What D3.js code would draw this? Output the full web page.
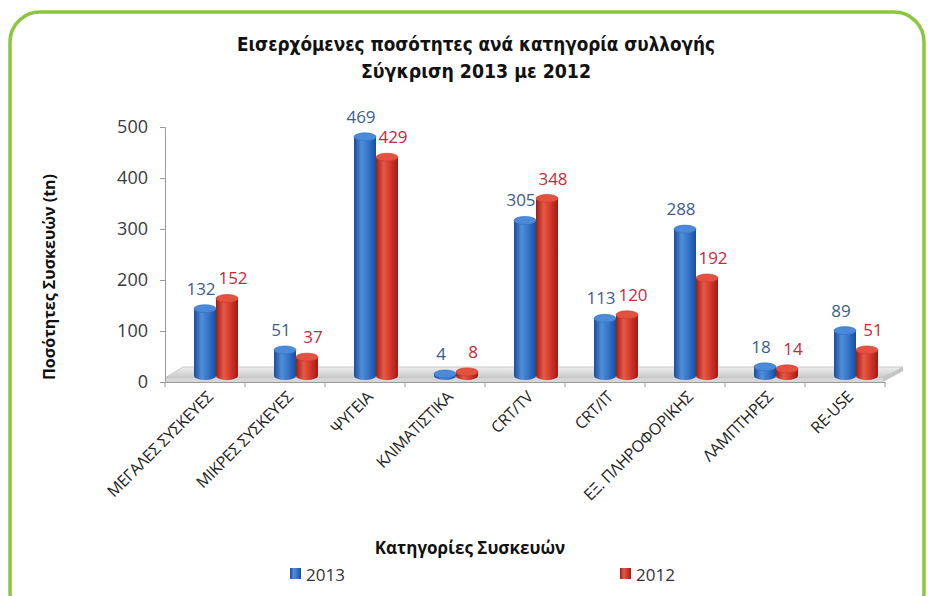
<!DOCTYPE html>
<html>
<head>
<meta charset="utf-8">
<script src="https://cdn.jsdelivr.net/npm/d3@7"></script>
<style>
  body { margin: 0; background: #fff; }
  svg { display: block; }
</style>
</head>
<body>
<div id="chart"></div>
<script>
// chart data
const categories = ["ΜΕΓΑΛΕΣ ΣΥΣΚΕΥΕΣ", "ΜΙΚΡΕΣ ΣΥΣΚΕΥΕΣ", "ΨΥΓΕΙΑ", "ΚΛΙΜΑΤΙΣΤΙΚΑ", "CRT/TV",
                    "CRT/IT", "ΕΞ. ΠΛΗΡΟΦΟΡΙΚΗΣ", "ΛΑΜΠΤΗΡΕΣ", "RE-USE"];
const series = ["2013", "2012"];
const values2013 = [132, 51, 469, 4, 305, 113, 288, 18, 89];
const values2012 = [152, 37, 429, 8, 348, 120, 192, 14, 51];
const yTicks = [0, 100, 200, 300, 400, 500];

const width = 928, height = 596;
const labelFont = "'Open Sans', 'DejaVu Sans', sans-serif";

const svg = d3.select("#chart").append("svg")
    .attr("width", width)
    .attr("height", height);

const defs = svg.append("defs");

// cylinder shading
function cylGradient(id, dark, mid, light) {
    const g = defs.append("linearGradient").attr("id", id)
        .attr("x1", "0%").attr("x2", "100%").attr("y1", "0%").attr("y2", "0%");
    g.append("stop").attr("offset", "0%").attr("stop-color", dark);
    g.append("stop").attr("offset", "35%").attr("stop-color", light);
    g.append("stop").attr("offset", "70%").attr("stop-color", mid);
    g.append("stop").attr("offset", "100%").attr("stop-color", dark);
}
cylGradient("g2013", "#1c4c97", "#2f6fc6", "#4f8fdc");
cylGradient("g2012", "#9d1d18", "#cf3327", "#e65a45");

const floorGrad = defs.append("linearGradient").attr("id", "floor")
    .attr("x1", "0%").attr("x2", "0%").attr("y1", "0%").attr("y2", "100%");
floorGrad.append("stop").attr("offset", "0%").attr("stop-color", "#eeeeee");
floorGrad.append("stop").attr("offset", "100%").attr("stop-color", "#c9c9c9");

const colors = { "2013": "#2f6fc6", "2012": "#cf3327" };
const topColors = { "2013": "#4a8ad8", "2012": "#e2523f" };
const labelColors = { "2013": "#3d5d8d", "2012": "#c9283a" };

// green frame
svg.append("rect")
    .attr("x", 10).attr("y", 12)
    .attr("width", 914).attr("height", 610)
    .attr("rx", 30)
    .attr("fill", "none")
    .attr("stroke", "#8cc63f")
    .attr("stroke-width", 3.5);

// title (condensed bold)
const titleFont = "'DejaVu Sans Condensed', 'DejaVu Sans', sans-serif";
[["Εισερχόμενες ποσότητες ανά κατηγορία συλλογής", 51, 478],
 ["Σύγκριση 2013 με 2012", 78, 230]].forEach(([t, ty, len]) => {
    svg.append("text")
        .attr("x", 476 - len / 2).attr("y", ty)
        .attr("textLength", len)
        .attr("lengthAdjust", "spacingAndGlyphs")
        .style("font-family", titleFont)
        .style("font-weight", "700")
        .style("font-size", "19px")
        .style("fill", "#111")
        .text(t);
});

// scales
const x0 = d3.scaleBand().domain(categories).range([165, 885]);
const x1 = d3.scaleBand().domain(series).range([0, 44]);
const y = d3.scaleLinear().domain([0, 500]).range([382, 127]);     // axis (front plane)
const yBar = d3.scaleLinear().domain([0, 500]).range([376, 121]);  // bars (mid depth)

// floor
const floorBack = 367, floorFront = 378;
svg.append("path")
    .attr("d", `M165,${floorFront} L883,${floorFront} L903,${floorBack} L183,${floorBack} Z`)
    .attr("fill", "url(#floor)")
    .attr("stroke", "#bdbdbd")
    .attr("stroke-width", 0.8);
svg.append("path")
    .attr("d", `M165,${floorFront} L883,${floorFront} L883,382 L165,382 Z`)
    .attr("fill", "#d6d6d6");
svg.append("path")
    .attr("d", `M883,${floorFront} L903,${floorBack} L903,371 L883,382 Z`)
    .attr("fill", "#c4c4c4");

// y axis
const yAxis = d3.axisLeft(y).tickValues(yTicks).tickSize(5).tickPadding(12);
const gy = svg.append("g").attr("transform", "translate(165,0)").call(yAxis);
gy.select(".domain").attr("stroke", "#9a9a9a");
gy.selectAll(".tick line").attr("stroke", "#9a9a9a");
gy.selectAll(".tick text")
    .style("font-family", labelFont)
    .style("font-size", "18px")
    .style("fill", "#3a3a3a");

// x axis
const xAxis = d3.axisBottom(x0).tickSize(0).tickFormat("");
const gx = svg.append("g").attr("transform", "translate(0,382)").call(xAxis);
gx.select(".domain").attr("stroke", "#9a9a9a");
svg.append("g").selectAll("line")
    .data(categories.concat(["end"]))
    .join("line")
    .attr("x1", (d, i) => i < categories.length ? x0(d) : x0.range()[1])
    .attr("x2", (d, i) => i < categories.length ? x0(d) : x0.range()[1])
    .attr("y1", 382).attr("y2", 387)
    .attr("stroke", "#9a9a9a");

// category labels
svg.append("g").selectAll("text")
    .data(categories)
    .join("text")
    .attr("transform", d => `translate(${x0(d) + x0.bandwidth() / 2 + 9},${398}) rotate(-45)`)
    .attr("text-anchor", "end")
    .style("font-family", labelFont)
    .style("font-size", "16px")
    .style("letter-spacing", "-0.3px")
    .style("fill", "#222")
    .text(d => d);

// bars
const barData = [];
categories.forEach((c, i) => {
    barData.push({ cat: c, s: "2013", v: values2013[i] });
    barData.push({ cat: c, s: "2012", v: values2012[i] });
});

const rx = x1.bandwidth() / 2, ry = 4;
const bars = svg.append("g").selectAll("g")
    .data(barData)
    .join("g")
    .attr("transform", d => `translate(${x0(d.cat) + x0.bandwidth() / 2 - 11 + x1(d.s)},0)`);

bars.append("path")
    .attr("d", d => {
        const top = yBar(d.v), base = yBar(0);
        const w = x1.bandwidth();
        return `M0,${top} L0,${base} A${rx},${ry} 0 0 0 ${w},${base} L${w},${top} Z`;
    })
    .attr("fill", d => `url(#g${d.s})`);

bars.append("ellipse")
    .attr("cx", rx)
    .attr("cy", d => yBar(d.v))
    .attr("rx", rx)
    .attr("ry", ry)
    .attr("fill", d => topColors[d.s])
    .attr("stroke", d => colors[d.s])
    .attr("stroke-width", 0.6);

// value labels
svg.append("g").selectAll("text")
    .data(barData)
    .join("text")
    .attr("x", d => x0(d.cat) + x0.bandwidth() / 2 - 11 + x1(d.s) + rx + (d.s === "2013" ? -4 : 6))
    .attr("y", d => yBar(d.v) - 14)
    .attr("text-anchor", "middle")
    .style("font-family", labelFont)
    .style("font-size", "17px")
    .style("fill", d => labelColors[d.s])
    .text(d => d.v);

// axis titles
svg.append("text")
    .attr("transform", "translate(55,277) rotate(-90)")
    .attr("text-anchor", "middle")
    .style("font-family", labelFont)
    .style("font-weight", "bold")
    .style("font-size", "16px")
    .style("fill", "#111")
    .text("Ποσότητες Συσκευών (tn)");

svg.append("text")
    .attr("x", 470).attr("y", 554)
    .attr("text-anchor", "middle")
    .style("font-family", labelFont)
    .style("font-weight", "bold")
    .style("font-size", "17px")
    .style("fill", "#111")
    .text("Κατηγορίες Συσκευών");

// legend
const legendX = { "2013": 290, "2012": 620 };
const legend = svg.append("g").selectAll("g")
    .data(series)
    .join("g")
    .attr("transform", d => `translate(${legendX[d]},568)`);
legend.append("rect")
    .attr("width", 11).attr("height", 11)
    .attr("fill", d => `url(#g${d})`);
legend.append("text")
    .attr("x", 16).attr("y", 13)
    .style("font-family", labelFont)
    .style("font-size", "17px")
    .style("fill", "#333")
    .text(d => d);
</script>
</body>
</html>
